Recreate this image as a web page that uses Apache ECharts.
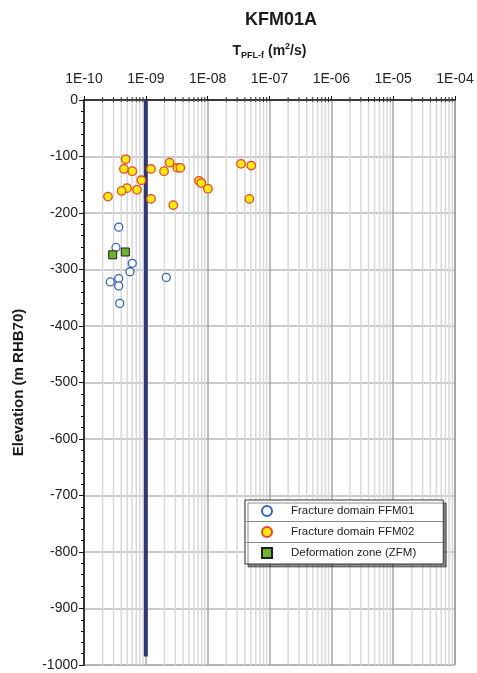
<!DOCTYPE html>
<html>
<head>
<meta charset="utf-8">
<script src="https://cdn.jsdelivr.net/npm/echarts@6/dist/echarts.min.js"></script>
<style>
  html, body { margin: 0; padding: 0; background: #fff; }
  #chart { width: 477px; height: 673px; }
</style>
</head>
<body>
<div id="chart"></div>
<script>
// Transmissivity (m2/s) and elevation (m RHB70) of flowing fractures
const ffm01T    = [3.64e-10, 3.29e-10, 6.04e-10, 5.54e-10, 3.64e-10, 2.66e-10, 3.64e-10, 3.78e-10, 2.14e-9];
const ffm01Elev = [-225, -261, -289, -304, -316, -322, -329, -360, -314];

const ffm02T    = [4.72e-10, 4.43e-10, 6.04e-10, 1.21e-9, 2.43e-9, 1.97e-9, 3.23e-9, 3.61e-9, 8.45e-10,
                   4.96e-10, 4.07e-10, 7.2e-10, 2.44e-10, 1.21e-9, 2.78e-9, 7.24e-9, 7.89e-9, 1.01e-8,
                   3.46e-8, 5.08e-8, 4.71e-8];
const ffm02Elev = [-105, -122, -126, -122, -111, -126, -120, -120, -142,
                   -156, -161, -159, -171, -175, -186, -143, -147, -157,
                   -113, -116, -175];

const zfmT    = [2.91e-10, 4.66e-10];
const zfmElev = [-274, -269];

// Lower measurement limit of the PFL tool
const limitT    = 1e-9;
const limitElev = [0, -985];

// Axis ranges and ticks
const xDecades = [1e-10, 1e-9, 1e-8, 1e-7, 1e-6, 1e-5, 1e-4];
const minorSteps = [2, 3, 4, 5, 6, 7, 8, 9];
const yMin = -1000, yMax = 0, yStep = 100;

const seriesNames = ['Fracture domain FFM01', 'Fracture domain FFM02', 'Deformation zone (ZFM)'];

const zip = (a, b) => a.map((v, i) => [v, b[i]]);

// log minor gridlines (2..9 x each decade)
const minorValues = [];
xDecades.slice(0, -1).forEach(d => minorSteps.forEach(m => minorValues.push([d * m, 0])));

const FONT = '"Liberation Sans", Arial, sans-serif';

const chart = echarts.init(document.getElementById('chart'), null, { renderer: 'canvas' });

chart.setOption({
  animation: false,
  backgroundColor: '#fff',
  textStyle: { fontFamily: FONT },
  title: {
    text: 'KFM01A',
    left: 276,
    top: 6,
    textAlign: 'center',
    textStyle: { fontFamily: FONT, fontSize: 18, fontWeight: 'bold', color: '#1a1a1a' }
  },
  grid: {
    left: 84, right: 22, top: 100, bottom: 8,
    show: true, borderColor: '#555', borderWidth: 1, backgroundColor: 'transparent'
  },
  legend: {
    orient: 'vertical',
    left: 245, top: 500,
    data: seriesNames,
    itemWidth: 10, itemHeight: 10, itemGap: 9,
    padding: [5, 27, 5, 16],
    backgroundColor: '#fff',
    borderColor: '#333', borderWidth: 1, borderRadius: 0,
    shadowColor: 'rgba(0,0,0,0.45)', shadowBlur: 0, shadowOffsetX: 3, shadowOffsetY: 3,
    textStyle: { fontFamily: FONT, fontSize: 11.5, color: '#222', lineHeight: 12, padding: [0, 0, 0, 14] }
  },
  graphic: [
    { type: 'line', z: 100, shape: { x1: 245, y1: 521.5, x2: 443, y2: 521.5 }, style: { stroke: '#888', lineWidth: 1 } },
    { type: 'line', z: 100, shape: { x1: 245, y1: 542.5, x2: 443, y2: 542.5 }, style: { stroke: '#888', lineWidth: 1 } }
  ],
  xAxis: {
    type: 'log',
    logBase: 10,
    position: 'top',
    min: xDecades[0],
    max: xDecades[xDecades.length - 1],
    name: '{b|T}{sub|PFL-f}{b| (m}{sup|2}{b|/s)}',
    nameLocation: 'middle',
    nameGap: 40,
    nameTextStyle: {
      rich: {
        b:   { fontFamily: FONT, fontSize: 14, fontWeight: 'bold', color: '#1a1a1a', lineHeight: 18 },
        sub: { fontFamily: FONT, fontSize: 9, fontWeight: 'bold', color: '#1a1a1a', lineHeight: 9, verticalAlign: 'bottom' },
        sup: { fontFamily: FONT, fontSize: 9, fontWeight: 'bold', color: '#1a1a1a', lineHeight: 9, verticalAlign: 'top' }
      }
    },
    axisLine: { show: true, lineStyle: { color: '#111', width: 1.5 } },
    axisTick: { show: true, inside: false, length: 4, lineStyle: { color: '#111' } },
    axisLabel: {
      fontFamily: FONT, fontSize: 14, color: '#222', margin: 14,
      formatter: v => {
        const e = Math.round(Math.log10(v));
        const s = String(Math.abs(e)).padStart(2, '0');
        return '1E' + (e < 0 ? '-' : '+') + s;
      }
    },
    splitLine: { show: true, lineStyle: { color: '#a6a6a6', width: 1.5 } }
  },
  yAxis: {
    type: 'value',
    min: yMin, max: yMax, interval: yStep,
    name: 'Elevation (m RHB70)',
    nameLocation: 'middle',
    nameGap: 58,
    nameTextStyle: { fontFamily: FONT, fontSize: 15, fontWeight: 'bold', color: '#1a1a1a' },
    axisLine: { show: true, onZero: false, lineStyle: { color: '#111', width: 1.5 } },
    axisTick: { show: true, length: 5, lineStyle: { color: '#111' } },
    minorTick: { show: true, splitNumber: 5, length: 3, lineStyle: { color: '#111' } },
    axisLabel: { fontFamily: FONT, fontSize: 14, color: '#222', margin: 6, formatter: v => String(v) },
    splitLine: { show: true, lineStyle: { color: '#b8b8b8', width: 1.5 } }
  },
  series: [
    {
      type: 'custom',
      name: 'minor',
      silent: true,
      z: 1,
      data: minorValues,
      encode: { x: 0, y: 1 },
      renderItem: (params, api) => {
        const v = api.value(0);
        const top = api.coord([v, yMax]);
        const bot = api.coord([v, yMin]);
        return {
          type: 'group',
          children: [
            { type: 'line', shape: { x1: top[0], y1: top[1], x2: bot[0], y2: bot[1] },
              style: { stroke: '#d9d9d9', lineWidth: 1.5 } },
            { type: 'line', shape: { x1: top[0], y1: top[1] - 3, x2: top[0], y2: top[1] + 2 },
              style: { stroke: '#222', lineWidth: 1 } }
          ]
        };
      }
    },
    {
      type: 'line',
      name: 'limit',
      silent: true,
      z: 3,
      symbol: 'none',
      data: limitElev.map(e => [limitT, e]),
      lineStyle: { color: '#2e3873', width: 4 }
    },
    {
      type: 'scatter',
      name: seriesNames[0],
      z: 4,
      symbol: 'circle',
      symbolSize: 8,
      data: zip(ffm01T, ffm01Elev),
      itemStyle: { color: '#fff', borderColor: '#2f62c0', borderWidth: 1.3, opacity: 1 }
    },
    {
      type: 'scatter',
      name: seriesNames[1],
      z: 5,
      symbol: 'circle',
      symbolSize: 8.5,
      data: zip(ffm02T, ffm02Elev),
      itemStyle: { color: '#ffee00', borderColor: '#ea4335', borderWidth: 1.3, opacity: 1 }
    },
    {
      type: 'scatter',
      name: seriesNames[2],
      z: 6,
      symbol: 'rect',
      symbolSize: 8,
      data: zip(zfmT, zfmElev),
      itemStyle: { color: '#6db42c', borderColor: '#1e1e1e', borderWidth: 1, opacity: 1 }
    }
  ]
});
</script>
</body>
</html>
